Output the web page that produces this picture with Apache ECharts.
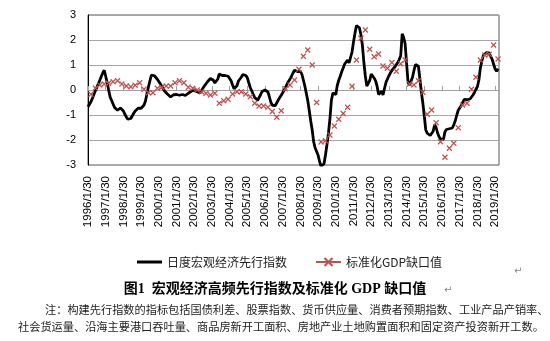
<!DOCTYPE html>
<html>
<head>
<meta charset="utf-8">
<script src="https://cdn.jsdelivr.net/npm/echarts@6/dist/echarts.min.js"></script>
<style>
  html, body { margin: 0; padding: 0; background: #fff; }
  #chart { width: 550px; height: 341px; }
</style>
</head>
<body>
<div id="chart"></div>
<script>
// Axis ticks and labels
const startYear = 1996;
const yearTicks = [1996, 1997, 1998, 1999, 2000, 2001, 2002, 2003, 2004, 2005, 2006, 2007,
                   2008, 2009, 2010, 2011, 2012, 2013, 2014, 2015, 2016, 2017, 2018, 2019];
const tickLabelSuffix = '/1/30';
const yTicks = [-3, -2, -1, 0, 1, 2, 3];

// Daily macro leading index, sampled once a month from 1996/1 to 2019/3
const leadingIndex = [
  -0.67, -0.62, -0.47, -0.33, -0.18, -0.03, 0.11, 0.25, 0.39, 0.54, 0.68, 0.79,
  0.55, 0.30, 0.00, -0.28, -0.42, -0.56, -0.70, -0.76, -0.81, -0.80, -0.72, -0.69,
  -0.84, -0.97, -1.08, -1.17, -1.16, -1.14, -1.07, -0.93, -0.84, -0.79, -0.73, -0.73,
  -0.73, -0.71, -0.60, -0.43, -0.14, 0.13, 0.37, 0.60, 0.62, 0.57, 0.51, 0.43,
  0.34, 0.25, 0.15, 0.05, -0.05, -0.11, -0.17, -0.22, -0.28, -0.25, -0.19, -0.13,
  -0.18, -0.23, -0.21, -0.18, -0.18, -0.21, -0.22, -0.18, -0.13, -0.08, -0.05, -0.03,
  -0.01, -0.02, -0.07, -0.11, -0.12, -0.02, 0.08, 0.17, 0.25, 0.33, 0.41, 0.46,
  0.43, 0.39, 0.28, 0.24, 0.44, 0.64, 0.61, 0.58, 0.56, 0.58, 0.60, 0.55,
  0.46, 0.37, 0.20, 0.05, -0.01, 0.17, 0.36, 0.43, 0.52, 0.62, 0.61, 0.58,
  0.49, 0.29, 0.10, -0.03, -0.17, -0.30, -0.37, -0.41, -0.34, -0.19, -0.06, -0.03,
  0.00, 0.02, -0.08, -0.28, -0.50, -0.61, -0.63, -0.62, -0.51, -0.40, -0.30, -0.21,
  -0.11, 0.00, 0.12, 0.24, 0.35, 0.44, 0.52, 0.68, 0.79, 0.76, 0.74, 0.76,
  0.75, 0.63, 0.40, 0.16, -0.13, -0.43, -0.82, -1.24, -1.60, -2.07, -2.32, -2.46,
  -2.61, -2.86, -3.05, -3.05, -2.95, -2.60, -2.18, -1.74, -1.17, -0.42, -0.12, -0.12,
  -0.18, 0.18, 0.39, 0.55, 0.73, 0.88, 1.04, 1.12, 1.20, 1.08, 1.16, 1.52,
  1.92, 2.27, 2.58, 2.60, 2.49, 2.22, 1.81, 1.13, 0.57, 0.16, 0.21, 0.38,
  0.64, 0.63, 0.48, 0.36, 0.15, -0.18, -0.10, -0.05, -0.20, 0.06, 0.30, 0.44,
  0.57, 0.68, 0.78, 0.85, 0.92, 1.01, 1.10, 1.22, 1.37, 2.25, 2.10, 1.85,
  1.05, 0.30, 0.20, 0.22, 0.51, 0.78, 1.02, 1.06, 0.95, 0.45, -0.09, -0.52,
  -1.04, -1.60, -1.73, -1.80, -1.82, -1.84, -1.65, -1.39, -1.50, -1.72, -1.87, -1.96,
  -2.03, -1.97, -1.67, -1.58, -1.54, -1.55, -1.56, -1.52, -1.39, -1.23, -1.01, -0.81,
  -0.72, -0.63, -0.50, -0.38, -0.35, -0.39, -0.42, -0.36, -0.30, -0.20, -0.10, 0.03,
  0.13, 0.40, 0.88, 1.15, 1.38, 1.43, 1.49, 1.52, 1.48, 1.40, 1.22, 1.03,
  0.84, 0.75, 0.85
];

// Standardised GDP gap, quarterly from 1996Q1 to 2019Q1
const gdpGap = [
  -0.17, 0.07, 0.20, 0.24, 0.27, 0.33, 0.37, 0.24, 0.16, 0.13, 0.19, 0.29,
  0.03, -0.11, -0.11, 0.07, 0.11, 0.16, 0.16, 0.29, 0.37, 0.29, 0.11, 0.07,
  0.00, -0.07, -0.13, -0.20, -0.13, -0.53, -0.43, -0.37, -0.16, -0.07, -0.07, -0.16,
  -0.27, -0.53, -0.64, -0.64, -0.69, -0.86, -1.09, -0.83, 0.05, 0.20, 0.40, 0.83,
  1.35, 1.60, 1.00, -0.50, -2.08, -2.03, -1.80, -1.44, -1.17, -0.94, -0.69, 0.15,
  1.20, 2.07, 2.40, 1.63, 1.33, 1.44, 0.96, 0.87, 1.10, 0.75, 1.05, 1.20,
  0.24, 0.20, 0.37, -0.09, -0.97, -0.80, -1.31, -2.07, -2.69, -2.33, -2.13, -1.51,
  -0.60, -0.53, 0.03, 0.51, 1.20, 1.40, 1.43, 1.80, 1.24
];

const seriesNames = ['日度宏观经济先行指数', '标准化GDP缺口值'];
const figureTitle = '图1  宏观经济高频先行指数及标准化 GDP 缺口值';
const noteLines = [
  '注：构建先行指数的指标包括国债利差、股票指数、货币供应量、消费者预期指数、工业产品产销率、',
  '社会货运量、沿海主要港口吞吐量、商品房新开工面积、房地产业土地购置面积和固定资产投资新开工数。'
];

// x positions in fractional years counted from each year's 1/30
const monthX = i => startYear + i / 12;
const quarterX = q => startYear + (3 * q + 2) / 12;

const xMin = startYear;
const xMax = 2019.22;
const red = '#C0504D';
const cjk = '"Noto Sans CJK SC", sans-serif';

const chart = echarts.init(document.getElementById('chart'), null, { renderer: 'canvas' });

chart.setOption({
  backgroundColor: '#fff',
  animation: false,
  grid: {
    left: 88, top: 15, width: 411, height: 150,
    show: true, borderColor: '#595959', borderWidth: 1, backgroundColor: 'transparent'
  },
  xAxis: [
    {
      type: 'value', min: xMin, max: xMax, position: 'bottom',
      axisLine: { show: false, onZero: false },
      axisTick: { show: false },
      splitLine: { show: false },
      axisLabel: {
        customValues: yearTicks,
        rotate: 90, margin: 11,
        fontSize: 11.5, color: '#000', fontFamily: '"Liberation Sans", Arial, sans-serif',
        formatter: v => Math.round(v) + tickLabelSuffix
      }
    },
    {
      type: 'value', min: xMin, max: xMax, position: 'bottom',
      axisLine: { show: true, onZero: true, onZeroAxisIndex: 0, lineStyle: { color: '#a0a0a0', width: 1 } },
      axisTick: { show: true, inside: true, length: 4, customValues: yearTicks, lineStyle: { color: '#a0a0a0' } },
      axisLabel: { show: false },
      splitLine: { show: false }
    }
  ],
  yAxis: {
    type: 'value', min: yTicks[0], max: yTicks[yTicks.length - 1], interval: 1,
    axisLine: { show: true, lineStyle: { color: '#000', width: 1 } },
    axisTick: { show: false },
    splitLine: { show: true, lineStyle: { color: '#a6a6a6', width: 1 } },
    axisLabel: { fontSize: 11, color: '#000', margin: 12, fontFamily: '"Liberation Sans", Arial, sans-serif' }
  },
  legend: {
    left: 132, top: 251,
    itemWidth: 25, itemHeight: 10, itemGap: 28,
    textStyle: { fontSize: 12, color: '#222', fontFamily: cjk },
    data: [
      { name: seriesNames[0], icon: 'path://M0,0L25,0L25,3L0,3Z', itemStyle: { color: '#000' } },
      { name: seriesNames[1], lineStyle: { opacity: 1, width: 2 } }
    ]
  },
  series: [
    {
      name: seriesNames[0],
      type: 'line',
      xAxisIndex: 0,
      data: leadingIndex.map((v, i) => [monthX(i), v]),
      showSymbol: false,
      symbol: 'none',
      smooth: false,
      clip: true,
      lineStyle: { color: '#000', width: 2.8 },
      itemStyle: { color: '#000' },
      z: 2
    },
    {
      name: seriesNames[1],
      type: 'line',
      xAxisIndex: 0,
      data: gdpGap.map((v, q) => [quarterX(q), v]),
      symbol: 'path://M0,0L10,10M10,0L0,10',
      symbolSize: 5,
      showSymbol: true,
      showAllSymbol: true,
      lineStyle: { color: red, width: 2, opacity: 0 },
      itemStyle: { color: 'rgba(0,0,0,0)', borderColor: red, borderWidth: 1.2 },
      z: 3
    }
  ],
  graphic: [
    {
      type: 'text', left: 'center', top: 282,
      style: {
        text: figureTitle, fontSize: 14, fontWeight: 'bold', fill: '#000',
        fontFamily: '"Liberation Serif", "Noto Sans CJK SC", serif'
      }
    },
    {
      type: 'text', left: 444, top: 285,
      style: { text: '↵', fontSize: 10, fill: '#888', fontFamily: '"DejaVu Sans", sans-serif' }
    },
    {
      type: 'text', left: 514, top: 266,
      style: { text: '↵', fontSize: 10, fill: '#888', fontFamily: '"DejaVu Sans", sans-serif' }
    },
    {
      type: 'text', left: 45, top: 304,
      style: { text: noteLines[0], fontSize: 11.2, fill: '#222', fontFamily: cjk }
    },
    {
      type: 'text', left: 18, top: 321,
      style: { text: noteLines[1], fontSize: 11.2, fill: '#222', fontFamily: cjk }
    }
  ]
});
</script>
</body>
</html>
